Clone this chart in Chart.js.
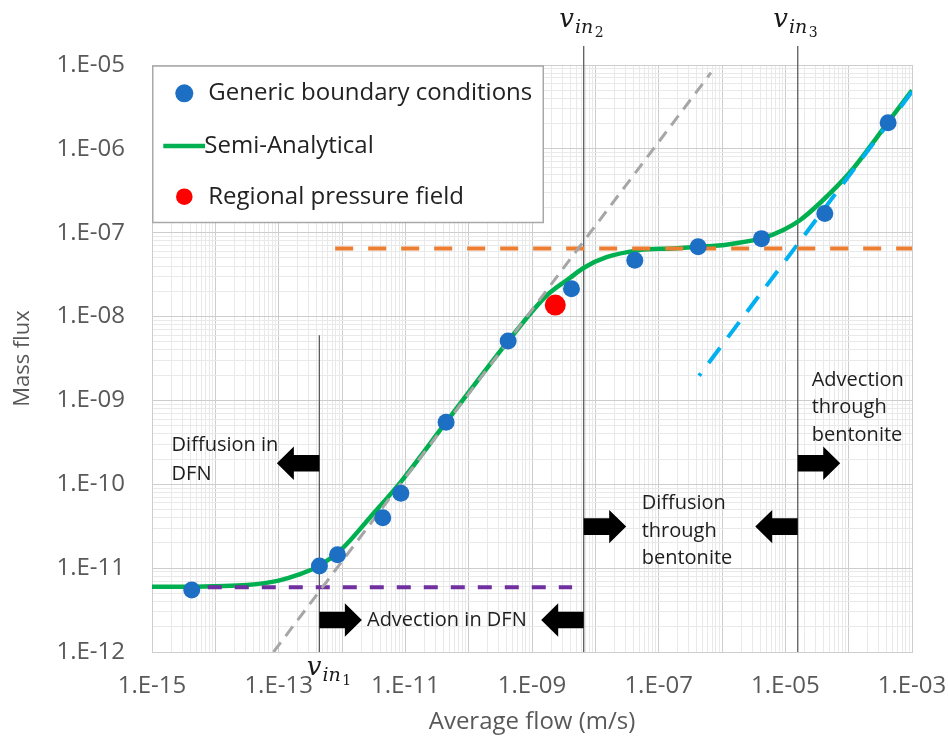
<!DOCTYPE html>
<html>
<head>
<meta charset="utf-8">
<script src="https://cdn.jsdelivr.net/npm/chart.js@4.4.1/dist/chart.umd.min.js"></script>
<style>
  html, body { margin: 0; padding: 0; background: #ffffff; }
  #wrap { width: 948px; height: 738px; position: relative; }
</style>
</head>
<body>
<div id="wrap"><canvas id="chart" width="948" height="738"></canvas></div>
<script>
// ---- Mass flux versus average flow ----
// Generic boundary conditions (simulations)
const genericFlow = [4.24e-15, 4.4e-13, 8.5e-13, 4.4e-12, 8.5e-12, 4.4e-11, 4.2e-10, 4.2e-9, 4.2e-8, 4.2e-7, 4.2e-6, 4.2e-5, 4.2e-4];
const genericFlux = [5.5e-12, 1.06e-11, 1.44e-11, 4.0e-11, 7.8e-11, 5.5e-10, 5.1e-9, 2.15e-8, 4.7e-8, 6.8e-8, 8.5e-8, 1.7e-7, 2.05e-6];

// Regional pressure field
const regionalFlow = [2.33e-9];
const regionalFlux = [1.37e-8];

// Semi-analytical solution
const semiFlow = [1e-15, 3.2e-15, 1e-14, 3.2e-14, 1e-13, 2.0e-13, 4.4e-13, 1e-12, 2.75e-12, 8.5e-12, 4.4e-11, 4.2e-10,
                  1.7e-9, 4.0e-9, 6.5e-9, 1.5e-8, 5.0e-8, 1.7e-7, 4.3e-7, 1.17e-6, 4.3e-6, 9.3e-6, 1.7e-5, 3.7e-5,
                  1.05e-4, 2.45e-4, 4.2e-4, 1e-3];
const semiFlux = [6.0e-12, 6.0e-12, 6.1e-12, 6.3e-12, 7.1e-12, 8.3e-12, 1.07e-11, 1.7e-11, 4.0e-11, 1.07e-10, 5.5e-10, 5.1e-9,
                  1.78e-8, 2.9e-8, 3.8e-8, 5.1e-8, 6.2e-8, 6.5e-8, 6.8e-8, 7.2e-8, 8.6e-8, 1.08e-7, 1.41e-7, 2.34e-7,
                  5.25e-7, 1.2e-6, 2.09e-6, 5.0e-6];

// Limiting regimes (dashed)
const dfnAdvFlow  = [8.3e-14, 6.7e-7];   const dfnAdvFlux  = [1.0e-12, 8.1e-6];
const bentDifFlow = [7.8e-13, 1e-3];     const bentDifFlux = [6.5e-8, 6.5e-8];
const dfnDifFlow  = [7.6e-15, 4.3e-9];   const dfnDifFlux  = [5.9e-12, 5.9e-12];
const bentAdvFlow = [1e-3, 4.34e-7];     const bentAdvFlux = [4.8e-6, 1.97e-9];

// Transition velocities v_in1, v_in2, v_in3 and the flux reached by each marker line
const vIn      = [4.39e-13, 6.55e-9, 1.57e-5];
const vInTop   = [6.0e-9, 1.69e-5, 1.69e-5];
const vInIndex = ['1', '2', '3'];

// Tick labels
const xTickLabels = ['1.E-15', '1.E-13', '1.E-11', '1.E-09', '1.E-07', '1.E-05', '1.E-03'];
const yTickLabels = ['1.E-12', '1.E-11', '1.E-10', '1.E-09', '1.E-08', '1.E-07', '1.E-06', '1.E-05'];

// Regime notes and arrows (anchored in data units)
const notes = [
  { lines: ['Diffusion in', 'DFN'],               flow: 2.04e-15, flux: 2.94e-10, lead: 29 },
  { lines: ['Advection in DFN'],                  flow: 2.48e-12, flux: 2.41e-12, lead: 28 },
  { lines: ['Diffusion', 'through', 'bentonite'], flow: 5.4e-8,   flux: 5.93e-11, lead: 27.5 },
  { lines: ['Advection', 'through', 'bentonite'], flow: 2.61e-5,  flux: 1.75e-9,  lead: 27.5 }
];
const arrows = [
  { at: 0, flux: 1.78e-10, dir: -1 },
  { at: 0, flux: 2.41e-12, dir: 1 },
  { at: 1, flux: 2.41e-12, dir: -1 },
  { at: 1, flux: 3.13e-11, dir: 1 },
  { at: 2, flux: 3.13e-11, dir: -1 },
  { at: 2, flux: 1.78e-10, dir: 1 }
];

const FONT = "'Open Sans', 'Noto Sans', 'DejaVu Sans', sans-serif";
const MATH = "'DejaVu Serif', 'Liberation Serif', serif";
const MAJOR = '#cdcdcd';
const MINOR = '#e9e9e9';

const pts = (xs, ys) => xs.map((x, i) => ({ x, y: ys[i] }));
const labelValue = s => parseFloat(s.replace('.E', 'E'));
const xLabelMap = new Map(xTickLabels.map(s => [Math.round(Math.log10(labelValue(s))), s]));
const yLabelMap = new Map(yTickLabels.map(s => [Math.round(Math.log10(labelValue(s))), s]));

function decade(v) {
  const e = Math.round(Math.log10(v));
  return Math.abs(v / Math.pow(10, e) - 1) < 1e-6 ? e : null;
}
function logGrid(lo, hi) {
  const out = [];
  for (let e = lo; e < hi; e++) for (let k = 1; k < 10; k++) out.push(k * Math.pow(10, e));
  out.push(Math.pow(10, hi));
  return out;
}

function blockArrow(ctx, xBase, y, dir) {
  const len = 42.5, head = 17, bh = 8.3, hh = 16.7;
  const tip = xBase + dir * len, neck = tip - dir * head;
  ctx.beginPath();
  ctx.moveTo(xBase, y - bh);
  ctx.lineTo(neck, y - bh);
  ctx.lineTo(neck, y - hh);
  ctx.lineTo(tip, y);
  ctx.lineTo(neck, y + hh);
  ctx.lineTo(neck, y + bh);
  ctx.lineTo(xBase, y + bh);
  ctx.closePath();
  ctx.fill();
}

function vLabel(ctx, x0, base, digit) {
  ctx.textAlign = 'left';
  ctx.textBaseline = 'alphabetic';
  ctx.fillStyle = '#1a1a1a';
  ctx.font = `italic 26px ${MATH}`;
  ctx.fillText('v', x0, base);
  const w1 = ctx.measureText('v').width;
  ctx.font = `italic 19px ${MATH}`;
  ctx.fillText('in', x0 + w1 + 1, base + 6);
  const w2 = ctx.measureText('in').width;
  ctx.font = `14px ${MATH}`;
  ctx.fillText(digit, x0 + w1 + w2 + 2.5, base + 10);
}

const decor = {
  id: 'decor',
  afterDatasetsDraw(chart) {
    const { ctx, chartArea: a, scales: { x, y } } = chart;
    ctx.save();

    // regime arrows on the transition lines
    ctx.fillStyle = '#000000';
    arrows.forEach(ar => blockArrow(ctx, x.getPixelForValue(vIn[ar.at]), y.getPixelForValue(ar.flux), ar.dir));

    // regime notes
    ctx.font = `20px ${FONT}`;
    ctx.fillStyle = '#1e1e1e';
    ctx.textAlign = 'left';
    ctx.textBaseline = 'middle';
    notes.forEach(n => {
      const px = x.getPixelForValue(n.flow), py = y.getPixelForValue(n.flux);
      n.lines.forEach((t, i) => ctx.fillText(t, px, py + i * n.lead));
    });

    // v_in labels: first below the axis, the others above the plot
    vIn.forEach((v, i) => {
      const px = x.getPixelForValue(v);
      if (i === 0) vLabel(ctx, px - 12.6, a.bottom + 23, vInIndex[i]);
      else vLabel(ctx, px - 24.5, a.top - 38, vInIndex[i]);
    });

    // legend box
    const ds = chart.data.datasets;
    const L = { x: a.left + 0.75, y: a.top + 1, w: 390.5, h: 156.5 };
    ctx.fillStyle = '#ffffff';
    ctx.fillRect(L.x, L.y, L.w, L.h);
    ctx.strokeStyle = '#a8a8a8';
    ctx.lineWidth = 1.5;
    ctx.strokeRect(L.x, L.y, L.w, L.h);

    const rows = [a.top + 28.3, a.top + 81, a.top + 131.7];
    const mx = a.left + 32.3, tx = a.left + 56.3;
    ctx.fillStyle = ds[0].pointBackgroundColor;
    ctx.beginPath(); ctx.arc(mx, rows[0], 9, 0, Math.PI * 2); ctx.fill();
    ctx.strokeStyle = ds[6].borderColor;
    ctx.lineWidth = ds[6].borderWidth;
    ctx.beginPath(); ctx.moveTo(a.left + 11.3, rows[1]); ctx.lineTo(a.left + 53, rows[1]); ctx.stroke();
    ctx.fillStyle = ds[1].pointBackgroundColor;
    ctx.beginPath(); ctx.arc(mx, rows[2], 8.3, 0, Math.PI * 2); ctx.fill();

    ctx.font = `24px ${FONT}`;
    ctx.fillStyle = '#222222';
    ctx.textAlign = 'left';
    ctx.textBaseline = 'middle';
    ctx.fillText(ds[0].label, tx, rows[0]);
    ctx.fillText(ds[6].label, tx - 4, rows[1]);
    ctx.fillText(ds[1].label, tx, rows[2]);

    ctx.restore();
  }
};

const dashed = (label, xs, ys, color, width, dash, order) => ({
  label, data: pts(xs, ys), showLine: true, borderColor: color, borderWidth: width,
  borderDash: dash, borderCapStyle: 'butt', pointRadius: 0, fill: false, order
});

const vLines = vIn.map((v, i) => ({
  label: 'v_in' + vInIndex[i],
  data: [{ x: v, y: 1e-12 }, { x: v, y: vInTop[i] }],
  showLine: true, borderColor: '#5c5c5c', borderWidth: 1.3, pointRadius: 0, clip: false, order: 10 + i
}));

new Chart(document.getElementById('chart'), {
  type: 'scatter',
  data: {
    datasets: [
      { label: 'Generic boundary conditions', data: pts(genericFlow, genericFlux), showLine: false,
        pointRadius: 8.5, pointBackgroundColor: '#1d6fc4', pointBorderWidth: 0, order: 0 },
      { label: 'Regional pressure field', data: pts(regionalFlow, regionalFlux), showLine: false,
        pointRadius: 10.5, pointBackgroundColor: '#ff0000', pointBorderWidth: 0, order: 1 },
      dashed('DFN advection', dfnAdvFlow, dfnAdvFlux, '#a6a6a6', 3, [12, 8], 2),
      dashed('Bentonite diffusion', bentDifFlow, bentDifFlux, '#ed7d31', 4, [18, 15], 3),
      dashed('DFN diffusion', dfnDifFlow, dfnDifFlux, '#7030a0', 4, [14, 13], 4),
      dashed('Bentonite advection', bentAdvFlow, bentAdvFlux, '#00b0f0', 4, [19, 13], 5),
      { label: 'Semi-Analytical', data: pts(semiFlow, semiFlux), showLine: true, borderColor: '#00b050',
        borderWidth: 4.5, pointRadius: 0, cubicInterpolationMode: 'monotone', fill: false, order: 6 },
      ...vLines
    ]
  },
  options: {
    responsive: false,
    animation: false,
    devicePixelRatio: 1,
    events: [],
    layout: { padding: { top: 65, right: 36, left: 0, bottom: 0 } },
    plugins: { legend: { display: false }, tooltip: { enabled: false } },
    scales: {
      x: {
        type: 'logarithmic', min: 1e-15, max: 1e-3,
        afterBuildTicks: s => { s.ticks = logGrid(-15, -3).map(v => ({ value: v })); },
        afterFit: s => { s.height = 86; s.paddingLeft = 30; s.paddingRight = 30; },
        ticks: {
          autoSkip: false, maxRotation: 0, minRotation: 0, padding: 20, color: '#595959',
          font: { family: FONT, size: 24 },
          callback: v => { const e = decade(v); return e !== null && xLabelMap.has(e) ? xLabelMap.get(e) : ''; }
        },
        grid: {
          drawTicks: false, lineWidth: 1,
          color: c => (c.tick && decade(c.tick.value) !== null) ? MAJOR : MINOR
        },
        border: { display: true, color: MAJOR },
        title: { display: true, text: 'Average flow (m/s)', color: '#595959',
                 font: { family: FONT, size: 24 }, padding: { top: 0, bottom: 1 } }
      },
      y: {
        type: 'logarithmic', min: 1e-12, max: 1e-5,
        afterBuildTicks: s => { s.ticks = logGrid(-12, -5).map(v => ({ value: v })); },
        afterFit: s => { s.width = 152; s.paddingTop = 10; s.paddingBottom = 10; },
        ticks: {
          autoSkip: false, padding: 27, color: '#595959',
          font: { family: FONT, size: 24 },
          callback: v => { const e = decade(v); return e !== null && yLabelMap.has(e) ? yLabelMap.get(e) : ''; }
        },
        grid: {
          drawTicks: false, lineWidth: 1,
          color: c => (c.tick && decade(c.tick.value) !== null) ? MAJOR : MINOR
        },
        border: { display: true, color: MAJOR },
        title: { display: true, text: 'Mass flux', color: '#595959',
                 font: { family: FONT, size: 22 }, padding: { top: 10, bottom: 0 } }
      }
    }
  },
  plugins: [decor]
});
</script>
</body>
</html>
